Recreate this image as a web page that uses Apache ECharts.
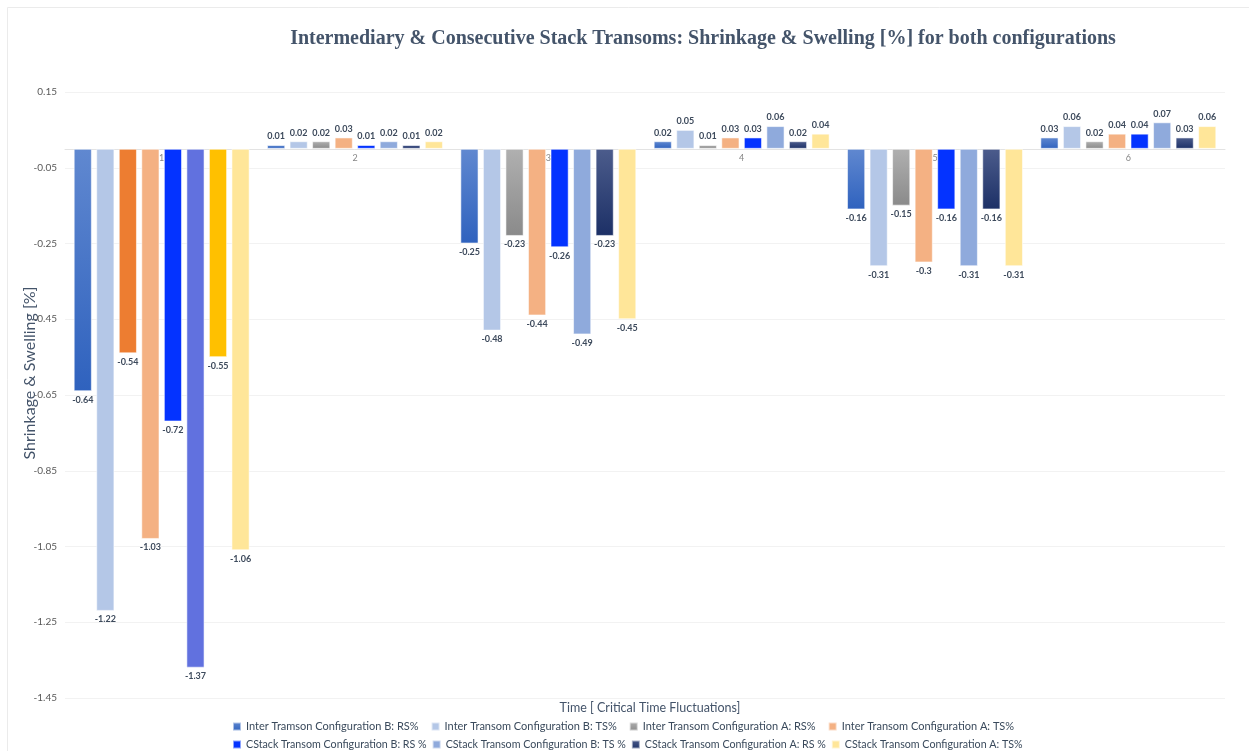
<!DOCTYPE html>
<html>
<head>
<meta charset="utf-8">
<script src="https://cdn.jsdelivr.net/npm/echarts@6/dist/echarts.min.js"></script>
<style>
  html, body { margin: 0; padding: 0; background: #ffffff; }
  #chart { width: 1249px; height: 751px; }
</style>
</head>
<body>
<div id="chart"></div>
<script>
// Time steps (critical time fluctuations)
const categories = ['1', '2', '3', '4', '5', '6'];

// Shrinkage / swelling in percent, one array per transom series
const interB_RS = [-0.64, 0.01, -0.25, 0.02, -0.16, 0.03];
const interB_TS = [-1.22, 0.02, -0.48, 0.05, -0.31, 0.06];
const interA_RS = [-0.54, 0.02, -0.23, 0.01, -0.15, 0.02];
const interA_TS = [-1.03, 0.03, -0.44, 0.03, -0.30, 0.04];
const cstackB_RS = [-0.72, 0.01, -0.26, 0.03, -0.16, 0.04];
const cstackB_TS = [-1.37, 0.02, -0.49, 0.06, -0.31, 0.07];
const cstackA_RS = [-0.55, 0.01, -0.23, 0.02, -0.16, 0.03];
const cstackA_TS = [-1.06, 0.02, -0.45, 0.04, -0.31, 0.06];

const seriesNames = [
  'Inter Tramson Configuration B: RS%',
  'Inter Transom Configuration B: TS%',
  'Inter Transom Configuration A: RS%',
  'Inter Transom Configuration A: TS%',
  'CStack Transom Configuration B: RS %',
  'CStack Transom Configuration B: TS %',
  'CStack Transom Configuration A: RS %',
  'CStack Transom Configuration A: TS%'
];
const seriesValues = [interB_RS, interB_TS, interA_RS, interA_TS, cstackB_RS, cstackB_TS, cstackA_RS, cstackA_TS];

const grad = (top, bottom) => new echarts.graphic.LinearGradient(0, 0, 0, 1, [
  { offset: 0, color: top }, { offset: 1, color: bottom }
]);

const legendColors = ['#3A6BC4', '#B4C7E7', '#A5A5A5', '#F4B183', '#0433FF', '#8FAADC', '#203864', '#FFE699'];
const fills = [
  grad('#6088D0', '#2F62BE'),
  '#B4C7E7',
  grad('#B0B0B0', '#8A8A8A'),
  '#F4B183',
  '#0433FF',
  '#8FAADC',
  grad('#4C5C8C', '#1C3066'),
  '#FFE699'
];
// the first time step uses its own palette for three of the series
const firstStepFills = { 2: '#ED7D31', 5: '#6171DF', 6: '#FFC000' };

const labelStyle = { fontSize: 9, fontWeight: 'bold', color: '#3D4A5C', fontFamily: 'Lato', distance: 4 };

const series = seriesValues.map((vals, si) => ({
  name: seriesNames[si],
  type: 'bar',
  barGap: '24%',
  barCategoryGap: '9%',
  itemStyle: { color: fills[si], borderColor: 'rgba(255,255,255,0.55)', borderWidth: 1 },
  data: vals.map((v, ci) => {
    const d = {
      value: v,
      label: { show: true, position: v < 0 ? 'bottom' : 'top', ...labelStyle }
    };
    if (ci === 0 && firstStepFills[si]) d.itemStyle = { color: firstStepFills[si] };
    return d;
  })
}));

// category names sit just under the zero line
series.push({
  name: 'time-step',
  type: 'scatter',
  symbolSize: 0,
  silent: true,
  z: 1,
  data: categories.map(c => [c, 0]),
  label: {
    show: true, position: 'bottom', distance: 5,
    fontSize: 9, color: '#666666', fontFamily: 'Lato',
    formatter: p => categories[p.dataIndex]
  }
});

const legendBase = {
  orient: 'horizontal', icon: 'rect', itemWidth: 8, itemHeight: 8,
  selectedMode: false
};

const chart = echarts.init(document.getElementById('chart'), null, { renderer: 'canvas' });
chart.setOption({
  backgroundColor: '#ffffff',
  animation: false,
  color: legendColors,
  title: {
    text: 'Intermediary & Consecutive Stack Transoms: Shrinkage & Swelling [%] for both configurations',
    left: 698, top: 24, textAlign: 'center',
    textStyle: { fontFamily: 'Liberation Serif', fontWeight: 'bold', fontSize: 20, color: '#44546A' }
  },
  grid: { left: 65, right: 24, top: 92, bottom: 53, containLabel: false },
  legend: [
    Object.assign({}, legendBase, {
      data: seriesNames.slice(0, 4), left: 227, top: 716, itemGap: 12,
      textStyle: { fontSize: 11, color: '#3A4A5C', fontFamily: 'Lato' }
    }),
    Object.assign({}, legendBase, {
      data: seriesNames.slice(4, 8), left: 227, top: 734, itemGap: 5,
      textStyle: { fontSize: 10.7, color: '#3A4A5C', fontFamily: 'Lato' }
    })
  ],
  xAxis: {
    type: 'category',
    data: categories,
    axisLine: { onZero: true, lineStyle: { color: '#E3E3E3', width: 1 } },
    axisTick: { show: false },
    axisLabel: { show: false }
  },
  yAxis: {
    type: 'value',
    min: -1.45, max: 0.15, interval: 0.2,
    axisLine: { show: false },
    axisTick: { show: false },
    axisLabel: { fontSize: 10, color: '#595959', margin: 8, fontFamily: 'Lato',
      formatter: v => String(+v.toFixed(2)) },
    splitLine: { lineStyle: { color: '#F2F2F2', width: 1 } }
  },
  graphic: [
    { type: 'rect', shape: { x: 7.5, y: 7.5, width: 1400, height: 900 },
      style: { fill: 'none', stroke: '#EBEBEB', lineWidth: 1 }, silent: true, z: -10 },
    { type: 'text', x: 650, y: 708, silent: true,
      style: { text: 'Time [ Critical Time Fluctuations]', fontSize: 12.5, fill: '#44546A', fontFamily: 'Lato',
        textAlign: 'center', textVerticalAlign: 'middle' } },
    { type: 'text', x: 30, y: 373, rotation: Math.PI / 2, silent: true,
      style: { text: 'Shrinkage & Swelling [%]', fontSize: 16, fill: '#44546A', fontFamily: 'Lato',
        textAlign: 'center', textVerticalAlign: 'middle' } }
  ],
  series: series
});
</script>
</body>
</html>
